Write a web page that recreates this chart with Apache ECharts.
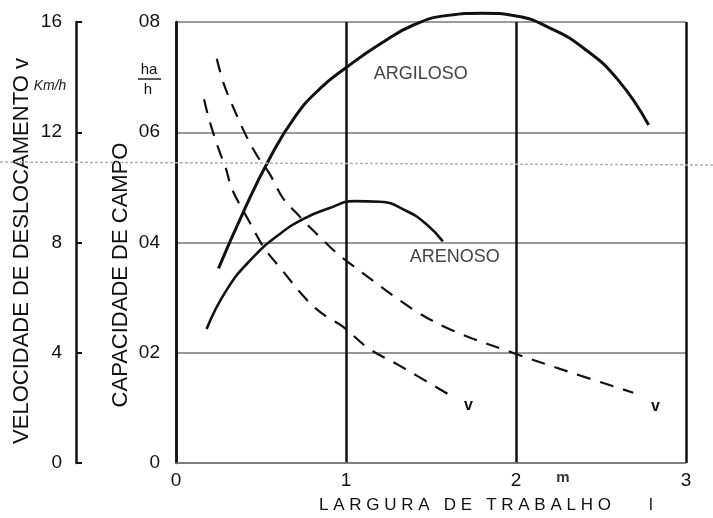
<!DOCTYPE html>
<html><head><meta charset="utf-8">
<script src="https://cdn.jsdelivr.net/npm/echarts@6/dist/echarts.min.js"></script>
<style>html,body{margin:0;padding:0;background:#fff}#c{width:713px;height:518px}</style>
</head><body><div id="c"></div>
<script>
// ---- data ----
const xTickLabels = ['0', '1', '2', '3'];
const capTickLabels = ['0', '02', '04', '06', '08'];
const velTickLabels = ['0', '4', '8', '12', '16'];

// Capacidade de campo (ha/h) - solo argiloso
const argilosoX = [0.25, 0.40, 0.55, 0.70, 0.85, 1.00, 1.20, 1.40, 1.60, 1.80, 2.00, 2.20, 2.40, 2.60, 2.78];
const argilosoY = [0.0353, 0.0458, 0.0552, 0.0628, 0.0680, 0.0717, 0.0760, 0.0795, 0.0812, 0.0816, 0.0811, 0.0789, 0.0752, 0.0695, 0.0613];
// Capacidade de campo (ha/h) - solo arenoso
const arenosoX = [0.18, 0.30, 0.45, 0.60, 0.75, 0.90, 1.05, 1.20, 1.35, 1.47, 1.57];
const arenosoY = [0.0243, 0.0315, 0.0372, 0.0413, 0.0443, 0.0462, 0.0475, 0.0474, 0.0458, 0.0434, 0.0402];
// Velocidade de deslocamento (km/h) - curva superior
const velAX = [0.24, 0.28, 0.33, 0.38, 0.42, 0.48, 0.55, 0.63, 0.71, 0.77, 0.86, 0.93, 1.01, 1.40, 1.63, 1.98, 2.34, 2.69];
const velAY = [14.67, 13.77, 13.0, 12.3, 11.78, 11.12, 10.5, 9.6, 9.06, 8.66, 8.12, 7.7, 7.3, 5.55, 4.8, 4.0, 3.25, 2.55];
// Velocidade de deslocamento (km/h) - curva inferior
const velBX = [0.165, 0.19, 0.22, 0.26, 0.29, 0.33, 0.43, 0.52, 0.62, 0.74, 0.82, 0.90, 0.98, 1.13, 1.31, 1.60];
const velBY = [13.2, 12.57, 11.96, 11.23, 10.76, 9.93, 8.77, 7.79, 7.03, 6.12, 5.62, 5.25, 4.96, 4.17, 3.55, 2.5];

// label anchors (data coordinates)
const argilosoLabel = [1.44, 0.0706];
const arenosoLabel = [1.64, 0.0373];
const velALabel = [2.82, 2.05];
const velBLabel = [1.72, 2.1];

const zip = (xs, ys) => xs.map((x, i) => [x, ys[i]]);
const FONT = 'Liberation Sans';

const chart = echarts.init(document.getElementById('c'), null, {renderer: 'canvas'});

function labelPoint(coord, text, size, weight, color) {
  return {
    symbol: 'circle', symbolSize: 1,
    itemStyle: {color: 'rgba(0,0,0,0)'},
    label: {show: true, position: 'inside', formatter: text, fontFamily: FONT, fontSize: size,
      fontWeight: weight || 'normal', color: color || '#444'},
    data: [{coord: coord}]
  };
}

chart.setOption({
  animation: false,
  backgroundColor: '#fff',
  grid: {left: 176, right: 27, top: 22, bottom: 55},
  xAxis: {
    type: 'value', min: 0, max: 3, interval: 1,
    axisLine: {show: true, lineStyle: {color: '#777', width: 1.5}},
    axisTick: {show: false},
    axisLabel: {margin: 8, fontFamily: FONT, fontSize: 19, color: '#111',
      formatter: v => xTickLabels[Math.round(v)]},
    splitLine: {show: true, lineStyle: {color: '#111', width: 2.5}}
  },
  yAxis: [
    {
      type: 'value', min: 0, max: 0.08, interval: 0.02, position: 'left',
      axisLine: {show: true, lineStyle: {color: '#111', width: 2.5}},
      axisTick: {show: false},
      axisLabel: {margin: 16, fontFamily: FONT, fontSize: 19, color: '#111',
        formatter: v => capTickLabels[Math.round(v / 0.02)]},
      splitLine: {show: true, lineStyle: {color: '#777', width: 1.5}}
    },
    {
      type: 'value', min: 0, max: 16, interval: 4, position: 'left', offset: 100,
      axisLine: {show: true, lineStyle: {color: '#111', width: 2.5}},
      axisTick: {show: true, inside: true, length: 6, lineStyle: {color: '#111', width: 2}},
      axisLabel: {margin: 14, fontFamily: FONT, fontSize: 19, color: '#111',
        formatter: v => velTickLabels[Math.round(v / 4)]},
      splitLine: {show: false}
    }
  ],
  series: [
    {
      name: 'ARGILOSO', type: 'line', yAxisIndex: 0, smooth: 0.5, showSymbol: false, clip: false,
      data: zip(argilosoX, argilosoY),
      lineStyle: {color: '#111', width: 3},
      markPoint: labelPoint(argilosoLabel, 'ARGILOSO', 18)
    },
    {
      name: 'ARENOSO', type: 'line', yAxisIndex: 0, smooth: 0.5, showSymbol: false, clip: false,
      data: zip(arenosoX, arenosoY),
      lineStyle: {color: '#111', width: 2.6},
      markPoint: labelPoint(arenosoLabel, 'ARENOSO', 18)
    },
    {
      name: 'v1', type: 'line', yAxisIndex: 1, smooth: 0.35, showSymbol: false, clip: false,
      data: zip(velAX, velAY),
      lineStyle: {color: '#111', width: 2.2, type: [14, 10]},
      markPoint: labelPoint(velALabel, 'v', 16, 'bold', '#111')
    },
    {
      name: 'v2', type: 'line', yAxisIndex: 1, smooth: 0.35, showSymbol: false, clip: false,
      data: zip(velBX, velBY),
      lineStyle: {color: '#111', width: 2.2, type: [14, 10]},
      markPoint: labelPoint(velBLabel, 'v', 16, 'bold', '#111')
    }
  ],
  graphic: [
    {type: 'text', x: 22, y: 251, rotation: Math.PI / 2,
      style: {text: 'VELOCIDADE DE DESLOCAMENTO v', font: '22px "Liberation Sans"', fill: '#111',
        textAlign: 'center', textVerticalAlign: 'middle'}},
    {type: 'text', x: 50, y: 86,
      style: {text: 'Km/h', font: 'italic 14px "Liberation Sans"', fill: '#222',
        textAlign: 'center', textVerticalAlign: 'middle'}},
    {type: 'text', x: 121, y: 275, rotation: Math.PI / 2,
      style: {text: 'CAPACIDADE DE CAMPO', font: '22px "Liberation Sans"', fill: '#111',
        textAlign: 'center', textVerticalAlign: 'middle'}},
    {type: 'text', x: 149, y: 70,
      style: {text: 'ha', font: '15px "Liberation Sans"', fill: '#111',
        textAlign: 'center', textVerticalAlign: 'middle'}},
    {type: 'line', shape: {x1: 138, y1: 79, x2: 161, y2: 79}, style: {stroke: '#222', lineWidth: 1.5}},
    {type: 'text', x: 148, y: 90,
      style: {text: 'h', font: '15px "Liberation Sans"', fill: '#111',
        textAlign: 'center', textVerticalAlign: 'middle'}},
    {type: 'text', x: 319, y: 505,
      style: {text: 'L A R G U R A   D E   T R A B A L H O', font: '17px "Liberation Sans"', fill: '#111',
        textAlign: 'left', textVerticalAlign: 'middle'}},
    {type: 'text', x: 651, y: 505,
      style: {text: 'l', font: '17px "Liberation Sans"', fill: '#111',
        textAlign: 'center', textVerticalAlign: 'middle'}},
    {type: 'text', x: 563, y: 478,
      style: {text: 'm', font: 'bold 15px "Liberation Sans"', fill: '#333',
        textAlign: 'center', textVerticalAlign: 'middle'}},
    {type: 'line', z: 100, shape: {x1: 0, y1: 162, x2: 713, y2: 165},
      style: {stroke: '#b0b0b0', lineWidth: 1.5, lineDash: [3, 2]}}
  ]
});
</script></body></html>
